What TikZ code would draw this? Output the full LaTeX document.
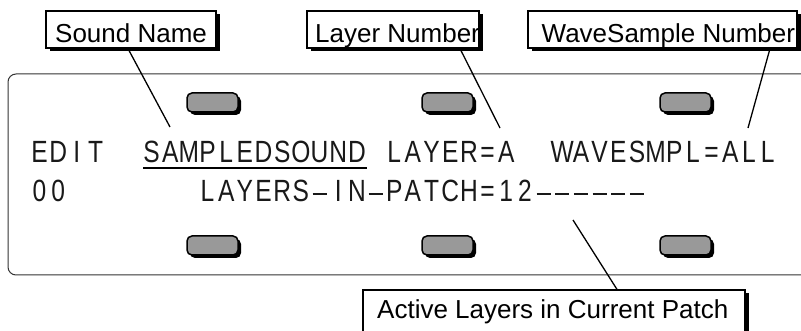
\documentclass[tikz,border=0pt]{standalone}
\usepackage{graphicx}
\usepackage{fontspec}
\setmainfont{Liberation Sans}
\usetikzlibrary{shadows}
\newcommand\lcdstop{LCDSTOP}
\newcommand\lcdchar[1]{\makebox[18.67pt][c]{\ifx#1-\rule[7pt]{14pt}{1.8pt}\else\scalebox{0.8}[1]{#1}\fi}}
\newcommand\lcd[1]{\lcdloop#1\lcdstop}
\def\lcdloop#1{\ifx#1\lcdstop\else\lcdchar{#1}\expandafter\lcdloop\fi}
\begin{document}
\begin{tikzpicture}[x=1pt,y=-1pt,
  labelbox/.style={draw=black, line width=1.2pt, fill=white, inner sep=0pt,
    drop shadow={opacity=1, fill=black, shadow xshift=3.5pt, shadow yshift=-3.5pt}},
  labeltext/.style={inner sep=0pt, anchor=base west, font=\fontsize{26}{26}\selectfont},
  lcdtext/.style={inner sep=0pt, anchor=base west, font=\fontsize{30.7}{30.7}\selectfont, text=black!90},
  button/.style={draw=black, line width=1.5pt, fill=black!40, rounded corners=5pt,
    minimum width=51pt, minimum height=19pt, inner sep=0pt,
    drop shadow={opacity=1, fill=black, shadow xshift=3pt, shadow yshift=-3pt}},
  conn/.style={draw=black, line width=1.3pt},
  panel/.style={draw=black!80, line width=1pt, rounded corners=8pt}]
\useasboundingbox (0,0) rectangle (801,331);
\clip (0,0) rectangle (801,331);
\fill[white] (0,0) rectangle (801,331);

% display panel
\draw[panel] (815,74) -- (8,74) -- (8,275) -- (815,275);

% buttons
\node[button] (b1) at (212.5,102.5) {};
\node[button] (b2) at (447.5,102.5) {};
\node[button] (b3) at (685.5,102.5) {};
\node[button] (b4) at (212.5,245.5) {};
\node[button] (b5) at (447.5,245.5) {};
\node[button] (b6) at (685.5,245.5) {};

% LCD text
\node[lcdtext] (row1) at (30,163) {\lcd{EDIT~~SAMPLEDSOUND~LAYER=A~~WAVESMPL=ALL}};
\node[lcdtext] (row2) at (30,202) {\lcd{00~~~~~~~LAYERS-IN-PATCH=12------}};
\draw[line width=2.5pt] (143,168) -- (367,168);

% label boxes
\node[labelbox, minimum width=170pt, minimum height=37pt] (sn) at (131,29.5) {};
\node[labelbox, minimum width=172pt, minimum height=37pt] (ln) at (393,29.5) {};
\node[labelbox, minimum width=269pt, minimum height=37pt] (wn) at (662.5,29.5) {};
\node[labelbox, minimum width=382pt, minimum height=60pt] (al) at (554,320) {};
\node[labeltext] (snt) at (55,42.5) {Sound Name};
\node[labeltext] (lnt) at (315,42.5) {Layer Number};
\node[labeltext] (wnt) at (541.5,42.5) {WaveSample Number};
\node[labeltext] (alt) at (377,319) {Active Layers in Current Patch};

% connector ends
\coordinate (c1) at (170,127);
\coordinate (c2) at (500,128);
\coordinate (c3) at (748,128);
\coordinate (c4) at (573,220);

\draw[conn] ([xshift=-3pt]sn.south) -- (c1);
\draw[conn] ([xshift=67pt]ln.south) -- (c2);
\draw[conn] ([xshift=107.5pt]wn.south) -- (c3);
\draw[conn] ([xshift=63pt]al.north) -- (c4);
\end{tikzpicture}
\end{document}
